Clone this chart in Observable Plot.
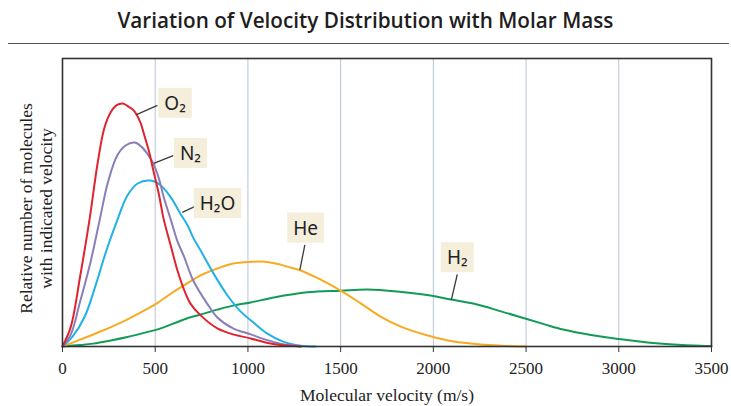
<!DOCTYPE html>
<html><head><meta charset="utf-8">
<script src="https://cdn.jsdelivr.net/npm/d3@7"></script>
<script src="https://cdn.jsdelivr.net/npm/@observablehq/plot@0.6"></script>
<style>
body{margin:0;background:#fff;}
#wrap{position:relative;width:731px;height:406px;overflow:hidden;background:#fff;}
#title{position:absolute;left:0;top:6px;width:731px;text-align:center;font-family:"Open Sans";font-weight:600;font-size:21px;color:#1e1e1e;white-space:nowrap;line-height:28px;}
#tt{display:inline-block;transform-origin:50% 50%;}
#rule{position:absolute;left:8px;top:43px;width:721px;height:0;border-top:1.5px solid #555;}
#chart{position:absolute;left:0;top:48px;}
</style></head><body>
<div id="wrap"><div id="title"><span id="tt">Variation of Velocity Distribution with Molar Mass</span></div><div id="rule"></div><div id="chart"></div></div>
<script>
// x ticks / grid
const xTicks = [0,500,1000,1500,2000,2500,3000,3500];
const gridTicks = [500,1000,1500,2000,2500,3000];

// gas names and colours (drawing order)
const gasNames = ["H₂","He","H₂O","N₂","O₂"];
const gasColors = ["#129a57","#f7aa22","#21b2e3","#8b7eb7","#df2430"];

// O2
const o2Velocity = [0,45,95,145,190,225,260,290,325,355,385,420,440,465,490,520,545,585,620,655,690,745,835,920,1015,1095,1175,1285];
const o2Value    = [0,6.9,24.3,43.8,63.9,75.7,81.3,83.7,84.4,83.3,81.9,77.8,73.6,68.1,61.1,52.8,44.4,34.7,26.4,19.8,14.9,10.8,6.3,4.2,2.8,1.4,0.5,0];
// N2
const n2Velocity = [0,45,95,150,200,245,295,340,390,425,460,490,520,545,585,620,655,705,780,835,920,1015,1095,1175,1285];
const n2Value    = [0,4.2,15.6,29.0,43.8,57.0,66.3,69.8,70.8,69.4,66.7,63.5,58.3,52.1,43.8,36.5,31.3,22.9,14.9,10.1,6.3,4.2,2.4,1.0,0];
// H2O
const h2oVelocity = [0,55,120,180,235,295,350,405,475,530,585,635,675,705,745,815,890,960,1030,1105,1190,1285,1365];
const h2oValue    = [0,3.5,10.4,21.5,33.0,43.8,52.4,56.6,57.6,55.9,51.7,46.2,42.0,37.8,33.3,25.3,17.7,12.2,8.3,4.5,1.7,0.3,0];
// He
const heVelocity = [0,95,205,315,420,500,585,655,745,835,920,1015,1080,1150,1230,1285,1390,1500,1610,1715,1825,1970,2110,2255,2365,2500];
const heValue    = [0,2.4,5.2,8.3,11.8,14.6,18.4,21.2,24.7,27.1,28.8,29.4,29.5,28.8,27.4,26.4,23.3,19.4,14.9,10.4,6.9,3.8,1.7,0.7,0.3,0];
// H2
const h2Velocity = [0,95,165,260,350,450,530,655,745,835,920,1015,1140,1320,1500,1645,1805,1985,2095,2215,2365,2495,2605,2700,2850,3000,3155,3295,3440,3500];
const h2Value    = [0,0.5,1.0,2.1,3.3,4.9,6.3,9.4,11.1,12.8,14.2,15.3,17.0,18.8,19.4,19.8,19.1,17.7,16.3,14.9,12.2,9.7,7.6,5.9,4.0,2.6,1.4,0.7,0.24,0.14];

// labels: curve point, leader end, label centre
const labelNames = ["O₂","N₂","H₂O","He","H₂"];
const labelCurveV = [399,492,646,1280,2097];
const labelCurveY = [80.5,63.6,46.6,26.6,16.2];
const leaderEndV  = [512,597,727,1307,2129];
const leaderEndY  = [83.7,66.3,49.0,35.3,25.0];
const labelV      = [607,690,836,1311,2129];
const labelY      = [84.3,66.9,49.5,41.0,30.7];

const series = [
  {gas:"H₂", v:h2Velocity, y:h2Value},
  {gas:"He", v:heVelocity, y:heValue},
  {gas:"H₂O", v:h2oVelocity, y:h2oValue},
  {gas:"N₂", v:n2Velocity, y:n2Value},
  {gas:"O₂", v:o2Velocity, y:o2Value}
];
const rows = series.flatMap(s => s.v.map((v,i) => ({gas:s.gas, velocity:v, value:s.y[i]})));
const labels = labelNames.map((n,i) => ({name:n, cv:labelCurveV[i], cy:labelCurveY[i], ev:leaderEndV[i], ey:leaderEndY[i], bv:labelV[i], by:labelY[i]}));

const plot = Plot.plot({
  width: 731, height: 358,
  marginTop: 10, marginBottom: 60, marginLeft: 62, marginRight: 20,
  style: {fontFamily: "Liberation Serif", fontSize: "17px", color: "#222", background: "transparent", overflow: "visible"},
  x: {domain: [0,3500], axis: null},
  y: {domain: [0,100], axis: null},
  color: {domain: gasNames, range: gasColors},
  marks: [
    Plot.ruleX(gridTicks, {stroke: "#b9c3d8", strokeWidth: 1}),
    Plot.line(rows, {x: "velocity", y: "value", z: "gas", stroke: "gas", curve: "catmull-rom", strokeWidth: 2}),
    Plot.link(labels, {x1: "cv", y1: "cy", x2: "ev", y2: "ey", stroke: "#3a3a3a", strokeWidth: 1.3}),
    Plot.text(labels, {x: "bv", y: "by", text: "name", fontSize: 19, fontFamily: "Noto Sans", fill: "#222"}),
    Plot.frame({stroke: "#333", strokeWidth: 1.6}),
    Plot.axisX({ticks: xTicks, tickSize: 6, tickPadding: 9, fontSize: 17, tickFormat: "d", label: null, stroke: "#333"}),
    Plot.text(["Molecular velocity (m/s)"], {frameAnchor: "bottom", dy: 54, text: d => d, fontSize: 17.5, fill: "#222"}),
    Plot.text(["Relative number of molecules\nwith indicated velocity"], {frameAnchor: "left", textAnchor: "middle", rotate: -90, dx: -27, dy: 6, text: d => d, fontSize: 17.5, lineHeight: 1.13, fill: "#222"})
  ]
});
document.getElementById("chart").appendChild(plot);

// beige boxes behind gas labels
const names = new Set(labelNames);
d3.select(plot).selectAll("text").each(function() {
  if (!names.has(this.textContent)) return;
  const b = this.getBBox();
  const w = Math.max(b.width + 12, 33);
  const h = 30;
  const cx = b.x + b.width/2, cy = b.y + b.height/2;
  const r = document.createElementNS("http://www.w3.org/2000/svg", "rect");
  r.setAttribute("x", cx - w/2); r.setAttribute("y", cy - h/2);
  r.setAttribute("width", w); r.setAttribute("height", h);
  r.setAttribute("fill", "#f4eedb");
  const t = this.getAttribute("transform"); if (t) r.setAttribute("transform", t);
  this.parentNode.insertBefore(r, this);
});

// fit title width
const tt = document.getElementById("tt");
const tw = tt.getBoundingClientRect().width;
tt.style.transform = `scaleX(${496 / tw})`;
</script>
</body></html>
